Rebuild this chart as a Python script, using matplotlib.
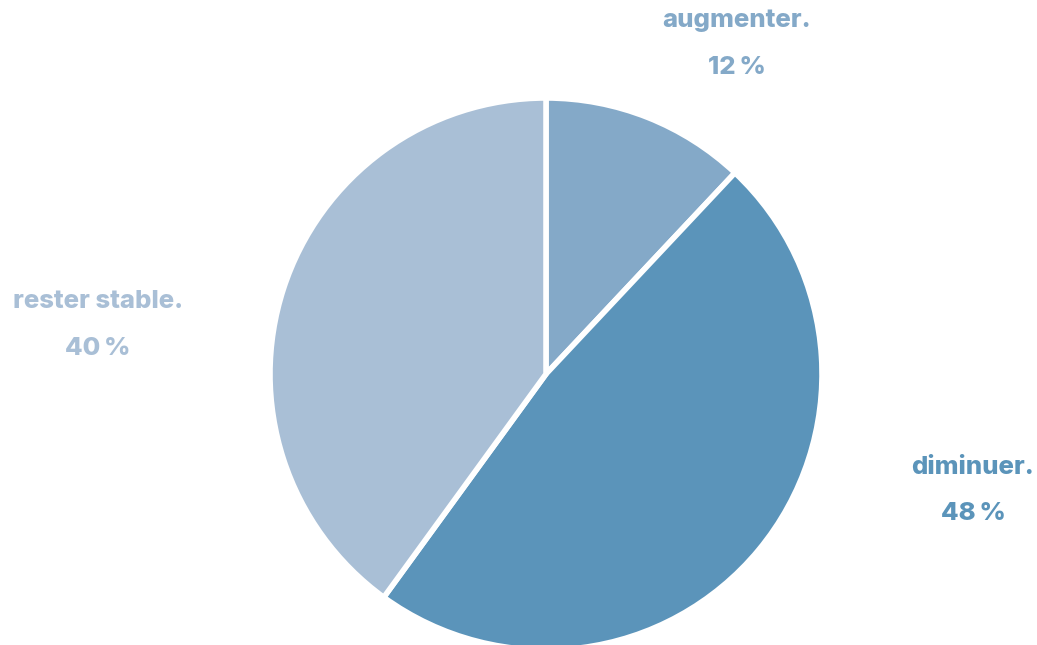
import matplotlib.pyplot as plt

# données
categories = ['augmenter.', 'diminuer.', 'rester stable.']
values = [12, 48, 40]
colors = ['#84A9C8', '#5B94BA', '#A9BFD6']

# position des étiquettes (pixels, origine en haut à gauche)
label_pos = [(737, 20), (973, 467), (98, 301)]

W, H = 1037, 645
fig = plt.figure(figsize=(W / 100, H / 100), dpi=100)
plt.rcParams['font.family'] = ['Inter', 'DejaVu Sans']

cx, cy, r = 546, 374, 276
ax = fig.add_axes([(cx - r) / W, (H - cy - r) / H, 2 * r / W, 2 * r / H])
ax.pie(values, colors=colors, startangle=90, counterclock=False,
       wedgeprops=dict(edgecolor='white', linewidth=4))
ax.set_xlim(-1, 1)
ax.set_ylim(-1, 1)
ax.set_aspect('equal')
ax.axis('off')

for cat, val, col, (x, y) in zip(categories, values, colors, label_pos):
    fig.text(x / W, 1 - y / H, cat, color=col, fontsize=18.5, fontweight='heavy',
             ha='center', va='center')
    fig.text(x / W, 1 - (y + 47) / H, f'{val}\u202f%', color=col, fontsize=18.5,
             fontweight='heavy', ha='center', va='center')

fig.savefig('out.png', dpi=100)
